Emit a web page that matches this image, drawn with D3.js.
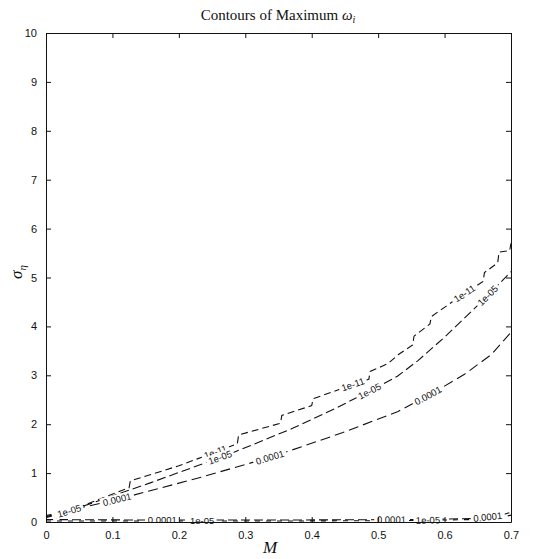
<!DOCTYPE html>
<html>
<head>
<meta charset="utf-8">
<script src="https://cdn.jsdelivr.net/npm/d3@7"></script>
<style>
  body { margin: 0; background: #fff; }
  svg { display: block; }
</style>
</head>
<body>
<div id="chart"></div>
<script>
// axis ticks
var xTicks = [0, 0.1, 0.2, 0.3, 0.4, 0.5, 0.6, 0.7];
var yTicks = [0, 1, 2, 3, 4, 5, 6, 7, 8, 9, 10];

// contour levels, each a list of [M, sigma]
var curve1e11 = [[0, 0.09], [0.032, 0.21], [0.125, 0.70], [0.127, 0.84], [0.20, 1.15], [0.253, 1.42],
  [0.288, 1.60], [0.290, 1.78], [0.353, 2.02], [0.355, 2.18], [0.400, 2.38], [0.402, 2.52],
  [0.462, 2.81], [0.486, 2.92], [0.488, 3.08], [0.515, 3.24], [0.530, 3.42], [0.552, 3.62],
  [0.554, 3.80], [0.578, 4.05], [0.580, 4.20], [0.623, 4.61], [0.658, 4.92], [0.660, 5.10],
  [0.680, 5.30], [0.682, 5.52], [0.698, 5.55], [0.700, 5.70]];
var curve1e05 = [[0, 0.11], [0.032, 0.21], [0.157, 0.80], [0.258, 1.30], [0.282, 1.42],
  [0.372, 1.92], [0.438, 2.34], [0.485, 2.66], [0.529, 2.98], [0.560, 3.30], [0.600, 3.78],
  [0.640, 4.30], [0.670, 4.70], [0.700, 5.12]];
var curve1e04 = [[0, 0.13], [0.107, 0.46], [0.232, 0.91], [0.337, 1.32], [0.372, 1.48],
  [0.447, 1.83], [0.530, 2.26], [0.580, 2.62], [0.630, 3.02], [0.670, 3.42], [0.700, 3.88]];
var floor1e04 = [[0, 0.05], [0.15, 0.04], [0.35, 0.04], [0.55, 0.05], [0.64, 0.07], [0.68, 0.12], [0.70, 0.20]];
var floor1e05 = [[0, 0.02], [0.15, 0.02], [0.35, 0.02], [0.55, 0.03], [0.64, 0.05], [0.68, 0.08], [0.70, 0.14]];
var topEdge = [[0, 9.99], [0.7, 9.99]];

// inline labels: text, curve, M position
var labels = [
  ["1e-11", curve1e11, 0.03], ["1e-05", curve1e05, 0.035],
  ["1e-11", curve1e11, 0.255], ["1e-05", curve1e05, 0.262], ["0.0001", curve1e04, 0.107],
  ["1e-11", curve1e11, 0.462], ["1e-05", curve1e05, 0.487], ["0.0001", curve1e04, 0.337],
  ["1e-11", curve1e11, 0.63], ["1e-05", curve1e05, 0.665], ["0.0001", curve1e04, 0.575],
  ["0.0001", floor1e04, 0.175], ["1e-05", floor1e05, 0.235],
  ["0.0001", floor1e04, 0.52], ["1e-05", floor1e05, 0.575],
  ["0.0001", floor1e04, 0.665]
];

var width = 555, height = 559;
var margin = {top: 33, right: 44, bottom: 37, left: 46};

var svg = d3.select("#chart").append("svg")
    .attr("width", width)
    .attr("height", height);

var x = d3.scaleLinear().domain([0, 0.7]).range([margin.left, width - margin.right]);
var y = d3.scaleLinear().domain([0, 10]).range([height - margin.bottom, margin.top]);

var line = d3.line().x(d => x(d[0])).y(d => y(d[1]));

var plot = svg.append("g");

// contour lines
var curves = [
  [curve1e11, "7,4"], [curve1e05, "9,4"], [curve1e04, "10,5"],
  [floor1e04, "9,4"], [floor1e05, "5,6"], [topEdge, "14,6"]
];
plot.selectAll("path.contour")
  .data(curves)
  .join("path")
  .attr("class", "contour")
  .attr("d", d => line(d[0]))
  .attr("fill", "none")
  .attr("stroke", "#111")
  .attr("stroke-width", 1.1)
  .attr("stroke-dasharray", d => d[1]);

function sigmaAt(pts, m) {
  for (var i = 1; i < pts.length; i++) {
    if (m <= pts[i][0]) {
      var t = (m - pts[i - 1][0]) / (pts[i][0] - pts[i - 1][0] || 1);
      return pts[i - 1][1] + t * (pts[i][1] - pts[i - 1][1]);
    }
  }
  return pts[pts.length - 1][1];
}

// labels with a white gap in the line
var lab = plot.selectAll("g.lab")
  .data(labels)
  .join("g")
  .attr("class", "lab")
  .attr("transform", d => {
    var m = d[2], dm = 0.02;
    var px = x(m), py = y(sigmaAt(d[1], m));
    var ax = x(m + dm) - x(m - dm), ay = y(sigmaAt(d[1], m + dm)) - y(sigmaAt(d[1], Math.max(0, m - dm)));
    var ang = Math.atan2(ay, ax) * 180 / Math.PI;
    return `translate(${px},${py}) rotate(${ang})`;
  });

lab.append("rect")
  .attr("x", d => -d[0].length * 2.7 - 1)
  .attr("y", -5)
  .attr("width", d => d[0].length * 5.4 + 2)
  .attr("height", 10)
  .attr("fill", "#fff");

lab.append("text")
  .attr("text-anchor", "middle")
  .attr("dy", "0.35em")
  .attr("font-family", "Liberation Sans, Arial, sans-serif")
  .attr("font-size", 9.5)
  .attr("fill", "#111")
  .text(d => d[0]);

// axes box and ticks
var axes = svg.append("g").attr("font-family", "Liberation Sans, Arial, sans-serif").attr("font-size", 11);

axes.append("g")
  .attr("transform", `translate(0,${y(0)})`)
  .call(d3.axisBottom(x).tickValues(xTicks).tickSizeInner(-5).tickSizeOuter(0).tickPadding(9).tickFormat(d3.format(".1~f")))
  .call(g => g.selectAll("text").attr("font-size", 11).attr("fill", "#111").text(d => d === 0 ? "0" : d3.format(".1f")(d)));

axes.append("g")
  .attr("transform", `translate(0,${y(10)})`)
  .call(d3.axisTop(x).tickValues(xTicks).tickSizeInner(-5).tickSizeOuter(0).tickFormat(""));

axes.append("g")
  .attr("transform", `translate(${x(0)},0)`)
  .call(d3.axisLeft(y).tickValues(yTicks).tickSizeInner(-5).tickSizeOuter(0).tickPadding(9))
  .call(g => g.selectAll("text").attr("font-size", 11).attr("fill", "#111"));

axes.append("g")
  .attr("transform", `translate(${x(0.7)},0)`)
  .call(d3.axisRight(y).tickValues(yTicks).tickSizeInner(-5).tickSizeOuter(0).tickFormat(""));

axes.selectAll(".domain").attr("stroke", "#111");
axes.selectAll(".tick line").attr("stroke", "#111");

// title and axis labels
var title = svg.append("text")
  .attr("x", 278)
  .attr("y", 20)
  .attr("text-anchor", "middle")
  .attr("font-family", "Liberation Serif, Times New Roman, serif")
  .attr("font-size", 15)
  .attr("fill", "#111")
  .text("Contours of Maximum ");
title.append("tspan").attr("font-style", "italic").text("ω");
title.append("tspan").attr("font-style", "italic").attr("font-size", 10).attr("dy", 3).text("i");

svg.append("text")
  .attr("x", 270)
  .attr("y", 553)
  .attr("text-anchor", "middle")
  .attr("font-family", "Liberation Serif, Times New Roman, serif")
  .attr("font-style", "italic")
  .attr("font-size", 17)
  .attr("fill", "#111")
  .text("M");

var yl = svg.append("text")
  .attr("transform", "translate(22,272) rotate(-90)")
  .attr("text-anchor", "middle")
  .attr("font-family", "Liberation Serif, Times New Roman, serif")
  .attr("font-style", "italic")
  .attr("font-size", 17)
  .attr("fill", "#111")
  .text("σ");
yl.append("tspan").attr("font-size", 11).attr("dy", 4).text("η");
</script>
</body>
</html>
